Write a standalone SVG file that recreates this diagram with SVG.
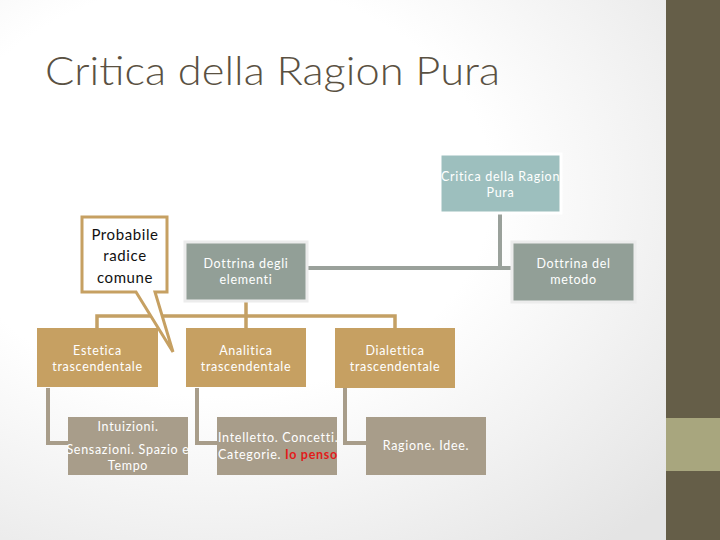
<svg xmlns="http://www.w3.org/2000/svg" width="720" height="540" viewBox="0 0 720 540">
<defs>
<radialGradient id="bg" cx="0.3" cy="0.35" r="0.85">
<stop offset="0.45" stop-color="#ffffff"/>
<stop offset="1" stop-color="#e4e4e4"/>
</radialGradient>
<style>
.t{font-family:Lato,"Open Sans","Liberation Sans",sans-serif;font-size:12.5px;fill:#ffffff;text-anchor:middle;letter-spacing:0.7px}
.top{fill:#9dbfbe;stroke:#ffffff;stroke-width:3}
.grn{fill:#929f97;stroke:#ececec;stroke-width:3}
.tan{fill:#c6a062}
.brn{fill:#a89d8a}
.c1{stroke:#9aa19b;stroke-width:4;fill:none}
.c2{stroke:#c4a064;stroke-width:3.5;fill:none}
.c3{stroke:#a89d8a;stroke-width:4;fill:none}
</style>
</defs>
<rect width="720" height="540" fill="url(#bg)"/>
<rect x="666" y="0" width="54" height="540" fill="#655e48"/>
<rect x="666" y="418" width="54" height="53" fill="#a8a67e"/>
<text x="45" y="85" font-family="Lato,'Open Sans','Liberation Sans',sans-serif" font-size="40" font-weight="300" fill="#5a5142" textLength="455" lengthAdjust="spacingAndGlyphs">Critica della Ragion Pura</text>
<g id="connectors">
<path class="c1" d="M500,213 V268 M307,268 H512"/>
<path class="c2" d="M246,301 V316 M97,328 V316 H395 V328 M246,316 V328"/>
<path class="c3" d="M48,388 V443 H68 M197,388 V443 H217 M345,388 V443 H366"/>
</g>
<g id="n-top">
<rect class="top" x="440" y="154" width="121" height="59"/>
<text class="t" x="500.5" y="181">Critica della Ragion</text>
<text class="t" x="500.5" y="197">Pura</text>
</g>
<g id="n-elementi">
<rect class="grn" x="185" y="242" width="122" height="59"/>
<text class="t" x="246" y="268">Dottrina degli</text>
<text class="t" x="246" y="284">elementi</text>
</g>
<g id="n-metodo">
<rect class="grn" x="512" y="242" width="123" height="60"/>
<text class="t" x="573.5" y="268">Dottrina del</text>
<text class="t" x="573.5" y="284">metodo</text>
</g>
<g id="n-estetica">
<rect class="tan" x="37" y="328" width="121" height="59"/>
<text class="t" x="97.5" y="355">Estetica</text>
<text class="t" x="97.5" y="371">trascendentale</text>
</g>
<g id="n-analitica">
<rect class="tan" x="186" y="328" width="120" height="59"/>
<text class="t" x="246" y="355">Analitica</text>
<text class="t" x="246" y="371">trascendentale</text>
</g>
<g id="n-dialettica">
<rect class="tan" x="335" y="328" width="120" height="60"/>
<text class="t" x="395" y="355">Dialettica</text>
<text class="t" x="395" y="371">trascendentale</text>
</g>
<g id="n-intuizioni">
<rect class="brn" x="68" y="417" width="120" height="58"/>
<text class="t" x="128" y="431">Intuizioni.</text>
<text class="t" x="128" y="454">Sensazioni. Spazio e</text>
<text class="t" x="128" y="470">Tempo</text>
</g>
<g id="n-intelletto">
<rect class="brn" x="217" y="417" width="120" height="58"/>
<text class="t" x="218" y="442" style="text-anchor:start">Intelletto. Concetti.</text>
<text class="t" x="218" y="459" style="text-anchor:start">Categorie. <tspan fill="#e21b1b" font-weight="bold">Io penso</tspan></text>
</g>
<g id="n-ragione">
<rect class="brn" x="366" y="417" width="120" height="58"/>
<text class="t" x="426" y="450">Ragione. Idee.</text>
</g>
<g id="callout">
<path d="M82,217 H167 V292 H155 L173,352 L136,292 H82 Z" fill="#ffffff" stroke="#c6a062" stroke-width="3" stroke-linejoin="miter"/>
<g font-family="Lato,'Open Sans','Liberation Sans',sans-serif" font-size="15" letter-spacing="0.6" fill="#111111" text-anchor="middle">
<text x="125" y="240">Probabile</text>
<text x="125" y="261">radice</text>
<text x="125" y="283">comune</text>
</g>
</g>
</svg>
